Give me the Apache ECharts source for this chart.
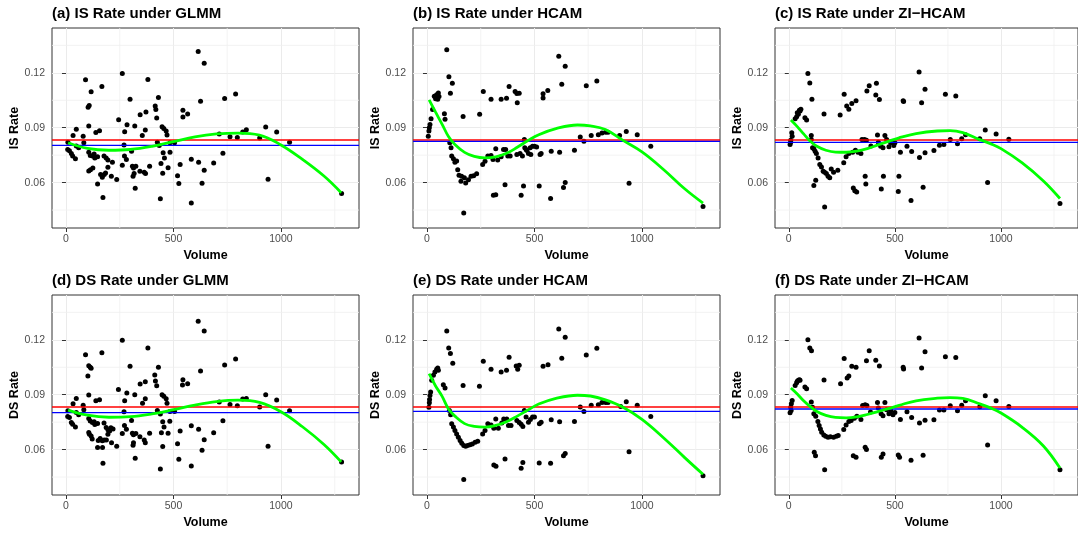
<!DOCTYPE html>
<html>
<head>
<meta charset="utf-8">
<script src="https://cdn.jsdelivr.net/npm/echarts@6/dist/echarts.min.js"></script>
<style>
  html, body { margin: 0; padding: 0; background: #fff; }
  #chart { width: 1078px; height: 534px; }
</style>
</head>
<body>
<div id="chart"></div>
<script>
// panel titles and axis names
const titles = ['(a) IS Rate under GLMM', '(b) IS Rate under HCAM', '(c) IS Rate under ZI\u2212HCAM',
    '(d) DS Rate under GLMM', '(e) DS Rate under HCAM', '(f) DS Rate under ZI\u2212HCAM']
const yNames = ['IS Rate', 'IS Rate', 'IS Rate', 'DS Rate', 'DS Rate', 'DS Rate']
const xTicks = [0, 500, 1000]
const yTicks = [0.06, 0.09, 0.12]
const xMinor = [250, 750, 1250]
const yMinor = [0.045, 0.075, 0.105, 0.135]
const xRange = [-65, 1363]
const yRange = [0.0352, 0.1445]

// red and blue reference lines, one value per panel
const redLine = [0.0833, 0.0833, 0.0833, 0.0833, 0.0833, 0.0833]
const blueLine = [0.0804, 0.0825, 0.0820, 0.0802, 0.0809, 0.0822]

// points [volume, rate]
const isGlmm = [[91,0.1162],[262,0.1196],[381,0.1163],[117,0.1096],[167,0.1125],[103,0.1012],[108,0.1022],[298,0.1055],[430,0.1065],[415,0.1019],[418,0.1000],[422,0.0953],[372,0.0986],[345,0.0971],[245,0.0944],[544,0.0995],[544,0.0959],[566,0.0975],[284,0.0916],[320,0.0909],[106,0.0909],[48,0.0891],[33,0.0858],[139,0.0874],[156,0.0883],[273,0.0878],[369,0.0887],[355,0.0858],[447,0.0906],[455,0.0896],[466,0.0882],[470,0.0860],[9,0.0821],[80,0.0854],[83,0.0818],[270,0.0805],[425,0.0821],[434,0.0803],[484,0.0818],[505,0.0818],[8,0.0781],[16,0.0774],[25,0.0759],[31,0.0745],[44,0.0730],[48,0.0800],[59,0.0790],[106,0.0766],[113,0.0748],[123,0.0745],[131,0.0757],[147,0.0741],[134,0.0735],[177,0.0745],[187,0.0734],[195,0.0723],[216,0.0712],[272,0.0745],[281,0.0726],[305,0.0772],[309,0.0690],[314,0.0680],[325,0.0690],[262,0.0695],[317,0.0650],[312,0.0635],[322,0.0569],[344,0.0662],[364,0.0657],[370,0.0650],[389,0.0690],[442,0.0704],[452,0.0763],[458,0.0734],[484,0.0766],[450,0.0651],[475,0.0681],[439,0.0512],[519,0.0638],[525,0.0595],[531,0.0699],[583,0.0728],[583,0.0488],[114,0.0671],[125,0.0680],[106,0.0664],[147,0.0593],[161,0.0644],[169,0.0629],[178,0.0644],[184,0.0653],[172,0.0518],[195,0.0684],[211,0.0635],[236,0.0617],[615,0.1317],[617,0.0712],[626,0.1045],[633,0.0596],[643,0.1253],[643,0.0667],[687,0.0707],[713,0.0866],[730,0.0761],[738,0.1060],[763,0.0851],[789,0.1084],[797,0.0846],[822,0.0877],[839,0.0889],[901,0.0844],[929,0.0904],[940,0.0618],[980,0.0877],[1040,0.0820],[1282,0.0540]]
const isHcam = [[92,0.1326],[102,0.1178],[118,0.1143],[109,0.1088],[34,0.1072],[42,0.1065],[50,0.1055],[45,0.1080],[53,0.1090],[56,0.1070],[40,0.1058],[26,0.1000],[81,0.0977],[84,0.0946],[19,0.0949],[14,0.0918],[11,0.0900],[9,0.0882],[6,0.0854],[168,0.0962],[245,0.0973],[262,0.1098],[298,0.1055],[345,0.1055],[370,0.1061],[382,0.1125],[410,0.1098],[418,0.1087],[429,0.1089],[420,0.1037],[540,0.1085],[540,0.1062],[562,0.1103],[106,0.0818],[112,0.0790],[115,0.0745],[123,0.0730],[130,0.0712],[138,0.0718],[143,0.0671],[149,0.0640],[161,0.0635],[174,0.0626],[180,0.0598],[193,0.0616],[205,0.0635],[217,0.0638],[231,0.0649],[158,0.0607],[171,0.0434],[259,0.0699],[270,0.0717],[283,0.0745],[298,0.0748],[320,0.0785],[307,0.0726],[329,0.0723],[345,0.0741],[356,0.0781],[366,0.0781],[376,0.0745],[387,0.0745],[363,0.0589],[309,0.0531],[320,0.0534],[418,0.0754],[433,0.0759],[444,0.0745],[453,0.0836],[461,0.0781],[472,0.0759],[480,0.0790],[491,0.0799],[500,0.0799],[483,0.0754],[465,0.0775],[455,0.0790],[510,0.0795],[449,0.0581],[438,0.0531],[522,0.0581],[526,0.0754],[531,0.0759],[578,0.0772],[575,0.0513],[613,0.1290],[627,0.1137],[643,0.1236],[617,0.0766],[635,0.0573],[643,0.0600],[686,0.0777],[713,0.0849],[730,0.0826],[741,0.1129],[764,0.0857],[790,0.1155],[797,0.0862],[814,0.0871],[831,0.0875],[842,0.0875],[896,0.0857],[927,0.0880],[940,0.0596],[978,0.0862],[1041,0.0799],[1284,0.0470]]
const isZi = [[90,0.1196],[99,0.1145],[109,0.1055],[30,0.0949],[37,0.0960],[45,0.0973],[53,0.0991],[57,0.1001],[40,0.0982],[50,0.0995],[76,0.0955],[84,0.0942],[14,0.0873],[16,0.0854],[9,0.0832],[6,0.0809],[9,0.0821],[166,0.0975],[242,0.0969],[261,0.1083],[273,0.1019],[283,0.1001],[297,0.1032],[317,0.1048],[368,0.1101],[379,0.1129],[413,0.1143],[410,0.1079],[427,0.1054],[539,0.1048],[541,0.1043],[106,0.0858],[106,0.0836],[112,0.0790],[118,0.0785],[124,0.0772],[130,0.0759],[138,0.0735],[146,0.0699],[154,0.0686],[162,0.0662],[169,0.0657],[177,0.0650],[185,0.0635],[193,0.0626],[127,0.0613],[118,0.0584],[169,0.0467],[200,0.0675],[211,0.0657],[231,0.0668],[259,0.0708],[270,0.0741],[283,0.0759],[301,0.0766],[314,0.0777],[326,0.0766],[340,0.0759],[345,0.0836],[357,0.0836],[366,0.0832],[387,0.0800],[360,0.0635],[363,0.0593],[304,0.0571],[311,0.0556],[320,0.0549],[418,0.0860],[422,0.0821],[433,0.0799],[444,0.0790],[453,0.0858],[461,0.0836],[472,0.0796],[480,0.0818],[495,0.0803],[500,0.0818],[446,0.0635],[436,0.0565],[519,0.0635],[516,0.0551],[526,0.0766],[557,0.0799],[579,0.0770],[576,0.0502],[614,0.1204],[616,0.0737],[626,0.1037],[633,0.0575],[642,0.1110],[642,0.0763],[684,0.0775],[710,0.0804],[731,0.0808],[738,0.1083],[761,0.0835],[787,0.1073],[795,0.0813],[815,0.0840],[833,0.0862],[900,0.0840],[926,0.0887],[937,0.0600],[977,0.0866],[1037,0.0837],[1278,0.0486]]
const dsGlmm = [[91,0.1118],[262,0.1198],[381,0.1156],[167,0.1129],[106,0.1059],[113,0.1050],[117,0.1045],[102,0.1002],[298,0.1055],[430,0.1050],[413,0.1008],[416,0.0975],[422,0.0949],[369,0.0971],[345,0.0959],[244,0.0929],[544,0.0982],[542,0.0953],[566,0.0960],[283,0.0909],[320,0.0900],[106,0.0898],[48,0.0880],[33,0.0851],[139,0.0867],[156,0.0873],[273,0.0867],[369,0.0878],[356,0.0854],[447,0.0900],[455,0.0891],[466,0.0878],[470,0.0854],[9,0.0812],[80,0.0843],[83,0.0818],[270,0.0807],[425,0.0814],[439,0.0794],[484,0.0809],[505,0.0809],[8,0.0781],[16,0.0776],[25,0.0748],[31,0.0739],[44,0.0724],[48,0.0803],[59,0.0790],[106,0.0770],[113,0.0757],[123,0.0748],[131,0.0752],[147,0.0743],[134,0.0737],[177,0.0746],[187,0.0721],[195,0.0708],[209,0.0719],[219,0.0713],[272,0.0732],[281,0.0712],[305,0.0759],[309,0.0690],[314,0.0681],[325,0.0688],[262,0.0688],[314,0.0638],[312,0.0624],[322,0.0553],[344,0.0671],[364,0.0653],[369,0.0638],[389,0.0690],[444,0.0692],[450,0.0752],[456,0.0723],[483,0.0755],[450,0.0617],[475,0.0690],[439,0.0494],[519,0.0632],[525,0.0547],[531,0.0702],[583,0.0730],[583,0.0511],[109,0.0684],[117,0.0675],[106,0.0693],[147,0.0611],[159,0.0661],[169,0.0649],[178,0.0653],[188,0.0653],[172,0.0525],[195,0.0684],[203,0.0702],[212,0.0638],[236,0.0618],[150,0.0650],[122,0.0658],[170,0.0611],[615,0.1301],[643,0.1248],[626,0.1030],[617,0.0712],[633,0.0597],[643,0.0654],[687,0.0692],[713,0.0860],[730,0.0758],[738,0.1062],[763,0.0847],[789,0.1095],[797,0.0840],[822,0.0876],[839,0.0880],[901,0.0833],[929,0.0900],[940,0.0619],[980,0.0871],[1040,0.0812],[1282,0.0532]]
const dsHcam = [[92,0.1248],[101,0.1156],[109,0.1125],[120,0.1072],[30,0.1006],[22,0.0979],[37,0.1024],[45,0.1039],[53,0.1034],[50,0.1046],[76,0.0955],[84,0.0937],[17,0.0915],[14,0.0896],[12,0.0874],[11,0.0856],[9,0.0832],[168,0.0951],[244,0.0946],[262,0.1083],[298,0.1039],[345,0.1024],[370,0.1034],[382,0.1105],[415,0.1057],[422,0.1039],[429,0.1061],[540,0.1055],[563,0.1064],[104,0.0814],[110,0.0790],[115,0.0741],[123,0.0723],[130,0.0704],[138,0.0686],[146,0.0668],[154,0.0650],[162,0.0635],[171,0.0622],[180,0.0618],[189,0.0622],[200,0.0627],[211,0.0631],[224,0.0640],[236,0.0646],[171,0.0437],[259,0.0686],[270,0.0704],[283,0.0741],[298,0.0735],[320,0.0768],[311,0.0717],[332,0.0717],[348,0.0746],[357,0.0768],[371,0.0768],[379,0.0732],[391,0.0732],[363,0.0549],[311,0.0516],[321,0.0509],[418,0.0759],[429,0.0748],[438,0.0739],[446,0.0726],[453,0.0814],[461,0.0778],[472,0.0750],[481,0.0764],[491,0.0778],[500,0.0778],[523,0.0741],[531,0.0750],[446,0.0529],[438,0.0498],[522,0.0527],[578,0.0763],[575,0.0526],[613,0.1259],[627,0.1099],[643,0.1214],[617,0.0752],[635,0.0566],[643,0.0579],[686,0.0754],[713,0.0833],[730,0.0809],[741,0.1117],[764,0.0843],[790,0.1154],[797,0.0845],[814,0.0858],[831,0.0858],[842,0.0858],[901,0.0836],[927,0.0862],[940,0.0588],[978,0.0843],[1041,0.0781],[1284,0.0457]]
const dsZi = [[90,0.1200],[99,0.1156],[107,0.1140],[30,0.0951],[37,0.0966],[45,0.0979],[53,0.0979],[40,0.0973],[50,0.0982],[76,0.0942],[84,0.0933],[16,0.0869],[12,0.0851],[9,0.0832],[6,0.0801],[11,0.0814],[166,0.0980],[244,0.0960],[261,0.1098],[275,0.0991],[283,0.1002],[297,0.1055],[317,0.1050],[366,0.1085],[379,0.1141],[410,0.1088],[427,0.1057],[539,0.1050],[541,0.1041],[106,0.0860],[112,0.0832],[118,0.0796],[127,0.0783],[137,0.0754],[143,0.0732],[149,0.0713],[155,0.0695],[165,0.0680],[174,0.0673],[185,0.0668],[196,0.0670],[211,0.0668],[224,0.0673],[233,0.0677],[120,0.0585],[126,0.0567],[169,0.0490],[259,0.0710],[270,0.0735],[283,0.0754],[294,0.0759],[309,0.0772],[321,0.0783],[340,0.0765],[348,0.0841],[360,0.0845],[368,0.0841],[385,0.0805],[360,0.0613],[366,0.0600],[304,0.0567],[317,0.0558],[418,0.0858],[422,0.0827],[435,0.0796],[444,0.0785],[453,0.0858],[461,0.0818],[472,0.0796],[481,0.0812],[491,0.0790],[500,0.0803],[444,0.0576],[436,0.0558],[516,0.0571],[522,0.0558],[526,0.0765],[557,0.0807],[579,0.0776],[576,0.0542],[614,0.1210],[616,0.0745],[626,0.1046],[633,0.0569],[642,0.1135],[642,0.0761],[684,0.0763],[710,0.0816],[731,0.0816],[738,0.1108],[761,0.0840],[787,0.1104],[795,0.0812],[815,0.0843],[833,0.0867],[900,0.0834],[926,0.0895],[937,0.0625],[977,0.0867],[1037,0.0836],[1278,0.0490]]

// smooth fit curves [volume, rate]
const isGlmmFit = [[10,0.0818],[100,0.0787],[200,0.0777],[300,0.0781],[400,0.0798],[500,0.0824],[600,0.0850],[700,0.0866],[800,0.0871],[900,0.0860],[1000,0.0806],[1100,0.0727],[1200,0.0636],[1280,0.0545]]
const isHcamFit = [[10,0.1052],[40,0.0985],[70,0.0920],[100,0.0852],[130,0.0808],[175,0.0765],[220,0.0743],[270,0.0735],[320,0.0741],[370,0.0760],[420,0.0793],[470,0.0830],[520,0.0862],[600,0.0895],[700,0.0915],[760,0.0910],[830,0.0890],[910,0.0832],[1000,0.0768],[1100,0.0672],[1200,0.0565],[1284,0.0488]]
const isZiFit = [[10,0.0942],[40,0.0906],[70,0.0866],[100,0.0827],[130,0.0800],[175,0.0777],[220,0.0767],[270,0.0766],[320,0.0772],[370,0.0786],[420,0.0806],[470,0.0825],[520,0.0845],[600,0.0868],[700,0.0882],[760,0.0884],[820,0.0873],[900,0.0835],[950,0.0813],[1000,0.0786],[1100,0.0708],[1200,0.0609],[1278,0.0513]]
const dsGlmmFit = [[10,0.0816],[100,0.0788],[200,0.0777],[300,0.0780],[400,0.0795],[500,0.0818],[600,0.0843],[700,0.0862],[800,0.0870],[900,0.0858],[1000,0.0807],[1100,0.0725],[1200,0.0628],[1280,0.0533]]
const dsHcamFit = [[10,0.1015],[40,0.0948],[70,0.0892],[100,0.0822],[130,0.0783],[175,0.0742],[220,0.0727],[270,0.0723],[320,0.0732],[370,0.0752],[420,0.0783],[470,0.0817],[520,0.0849],[600,0.0880],[700,0.0897],[760,0.0893],[830,0.0872],[910,0.0833],[1000,0.0765],[1100,0.0665],[1200,0.0555],[1284,0.0465]]
const dsZiFit = [[10,0.0937],[40,0.0904],[70,0.0867],[100,0.0836],[130,0.0810],[175,0.0787],[220,0.0776],[270,0.0774],[320,0.0779],[370,0.0792],[420,0.0808],[470,0.0824],[520,0.0842],[600,0.0867],[700,0.0881],[760,0.0884],[820,0.0880],[900,0.0850],[950,0.0828],[1000,0.0800],[1100,0.0722],[1200,0.0620],[1278,0.0499]]

const points = [isGlmm, isHcam, isZi, dsGlmm, dsHcam, dsZi]
const fits = [isGlmmFit, isHcamFit, isZiFit, dsGlmmFit, dsHcamFit, dsZiFit]

const gridLeft = [52, 413, 775]
const gridTop = [28, 295]
const font = 'Liberation Sans, Arial, sans-serif'

// horizontal line across the whole panel
function hline(v) {
    return [[xRange[0], v], [xRange[1], v]]
}

// minor grid as broken line segments
function minorGrid() {
    const d = []
    xMinor.forEach(function (v) {
        d.push([v, yRange[0]], [v, yRange[1]], [v, '-'])
    })
    yMinor.forEach(function (v) {
        d.push([xRange[0], v], [xRange[1], v], ['-', v])
    })
    return d
}

const myChart = echarts.init(document.getElementById('chart'), null, { renderer: 'canvas' })

const option = {
    backgroundColor: '#fff',
    animation: false,
    title: [],
    grid: [],
    xAxis: [],
    yAxis: [],
    series: []
}

for (let i = 0; i < 6; i++) {
    const col = i % 3
    const row = Math.floor(i / 3)
    option.title.push({
        text: titles[i],
        left: gridLeft[col],
        top: row === 0 ? 6 : 273,
        padding: 0,
        textStyle: { fontFamily: font, fontSize: 15, fontWeight: 'bold', color: '#000' }
    })
    option.grid.push({
        left: gridLeft[col], top: gridTop[row], width: 307, height: 200,
        show: true, borderColor: '#333', borderWidth: 1, backgroundColor: 'transparent'
    })
    option.xAxis.push({
        gridIndex: i, type: 'value', min: xRange[0], max: xRange[1],
        name: 'Volume', nameLocation: 'middle', nameGap: 21,
        nameTextStyle: { fontFamily: font, fontSize: 12.5, fontWeight: 'bold', color: '#000' },
        axisLine: { show: false },
        axisTick: { show: true, length: 4, customValues: xTicks, lineStyle: { color: '#333' } },
        axisLabel: {
            customValues: xTicks, margin: 6, fontFamily: font, fontSize: 10.5, color: '#4D4D4D',
            formatter: function (v) { return String(v) }
        },
        splitLine: { show: true, lineStyle: { color: '#EBEBEB', width: 1 } }
    })
    option.yAxis.push({
        gridIndex: i, type: 'value', min: yRange[0], max: yRange[1],
        name: yNames[i], nameLocation: 'middle', nameGap: 28,
        nameTextStyle: { fontFamily: font, fontSize: 12.5, fontWeight: 'bold', color: '#000' },
        axisLine: { show: false },
        axisTick: { show: true, length: 4, customValues: yTicks, lineStyle: { color: '#333' } },
        axisLabel: {
            customValues: yTicks, margin: 7, fontFamily: font, fontSize: 10.5, color: '#4D4D4D',
            formatter: function (v) { return v.toFixed(2) }
        },
        splitLine: { show: true, lineStyle: { color: '#EBEBEB', width: 1 } }
    })

    option.series.push({
        type: 'line', xAxisIndex: i, yAxisIndex: i, data: minorGrid(),
        showSymbol: false, silent: true, connectNulls: false, z: 0,
        lineStyle: { color: '#F0F0F0', width: 0.8 }
    })
    option.series.push({
        type: 'scatter', xAxisIndex: i, yAxisIndex: i, data: points[i],
        symbolSize: 5, itemStyle: { color: '#000', opacity: 1 }, z: 2
    })
    option.series.push({
        type: 'line', xAxisIndex: i, yAxisIndex: i, data: hline(redLine[i]),
        showSymbol: false, silent: true, z: 3,
        lineStyle: { color: '#FF0000', width: 1.5 }
    })
    option.series.push({
        type: 'line', xAxisIndex: i, yAxisIndex: i, data: hline(blueLine[i]),
        showSymbol: false, silent: true, z: 3,
        lineStyle: { color: '#0000FF', width: 1.3 }
    })
    option.series.push({
        type: 'line', xAxisIndex: i, yAxisIndex: i, data: fits[i],
        smooth: 0.4, showSymbol: false, silent: true, z: 4,
        lineStyle: { color: '#00FF00', width: 2.8 }
    })
}

myChart.setOption(option)
</script>
</body>
</html>
